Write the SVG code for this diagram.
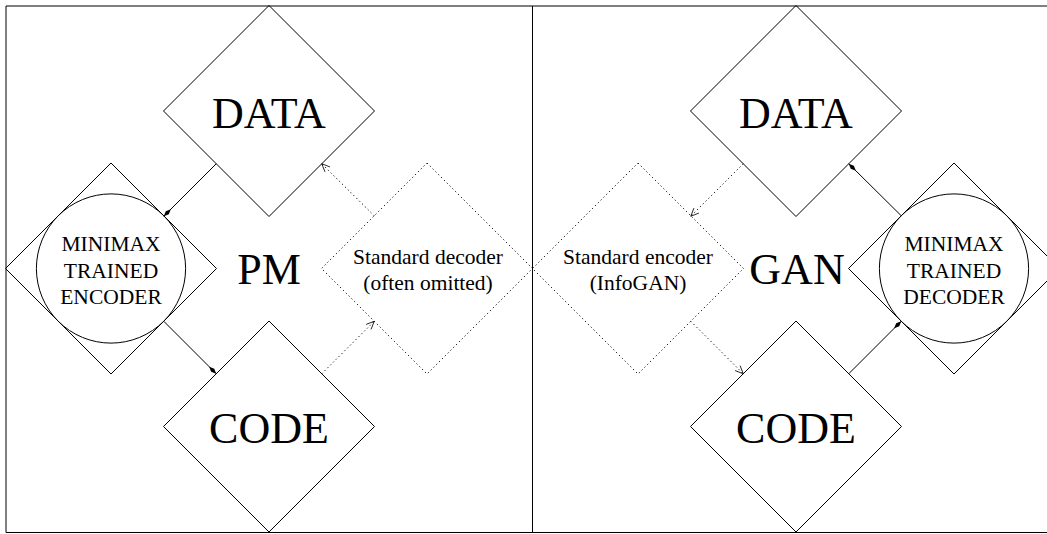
<svg xmlns="http://www.w3.org/2000/svg" width="1047" height="534" viewBox="0 0 1047 534">
<style>
.frame{fill:none;stroke:#000;stroke-width:1}
.dia{fill:none;stroke:#000;stroke-width:1}
.dot{fill:none;stroke:#000;stroke-width:1;stroke-dasharray:1.2 2.8}
.circ{fill:none;stroke:#000;stroke-width:1}
.big{font-family:"Liberation Serif","Times New Roman",serif;font-size:44px;text-anchor:middle;fill:#000}
.small{font-family:"Liberation Serif","Times New Roman",serif;font-size:21.5px;text-anchor:middle;fill:#000}
.solid{fill:none;stroke:#000;stroke-width:1}
.dashed{fill:none;stroke:#000;stroke-width:1;stroke-dasharray:1.2 2.8}
</style>
<defs>
<marker id="fill" markerUnits="userSpaceOnUse" markerWidth="14" markerHeight="8" refX="11" refY="4" orient="auto" overflow="visible">
<path d="M11,4 L6,1.8 L1,4 L6,6.2 Z" fill="#000" stroke="none"/>
</marker>
<marker id="open" markerUnits="userSpaceOnUse" markerWidth="12" markerHeight="10" refX="10" refY="5" orient="auto" overflow="visible">
<path d="M2,1.5 L10,5 L2,8.5" fill="none" stroke="#000" stroke-width="0.8"/>
</marker>
</defs>
<rect width="1047" height="534" fill="#fff"/>
<g id="frame">
<line class="frame" x1="6" y1="6" x2="1047" y2="6"/>
<line class="frame" x1="6" y1="6" x2="6" y2="532.5"/>
<line class="frame" x1="6" y1="532.5" x2="1047" y2="532.5"/>
<line class="frame" x1="532.5" y1="6" x2="532.5" y2="532.5"/>
</g>
<!-- Left panel -->
<g id="pm-data">
<polygon class="dia" points="269,5.5 374.5,111 269,216.5 163.5,111"/>
<text class="big" x="269" y="127.5">DATA</text>
</g>
<g id="pm-code">
<polygon class="dia" points="269,321 374.5,426.5 269,532 163.5,426.5"/>
<text class="big" x="269" y="443">CODE</text>
</g>
<g id="pm-encoder">
<polygon class="dia" points="111,163 216.5,268.5 111,374 5.5,268.5"/>
<circle class="circ" cx="111" cy="268.5" r="74.6"/>
<text class="small" x="111" y="251">MINIMAX</text>
<text class="small" x="111" y="277.5">TRAINED</text>
<text class="small" x="111" y="304">ENCODER</text>
</g>
<g id="pm-label">
<text class="big" x="269" y="284">PM</text>
</g>
<g id="pm-decoder">
<polygon class="dot" points="427,163 532.5,268.5 427,374 321.5,268.5"/>
<text class="small" x="428" y="264">Standard decoder</text>
<text class="small" x="428" y="290">(often omitted)</text>
</g>
<!-- Right panel -->
<g id="gan-data">
<polygon class="dia" points="796,5.5 901.5,111 796,216.5 690.5,111"/>
<text class="big" x="796" y="127.5">DATA</text>
</g>
<g id="gan-code">
<polygon class="dia" points="796,321 901.5,426.5 796,532 690.5,426.5"/>
<text class="big" x="796" y="443">CODE</text>
</g>
<g id="gan-decoder">
<polygon class="dia" points="954,163 1059.5,268.5 954,374 848.5,268.5"/>
<circle class="circ" cx="954" cy="268.5" r="74.6"/>
<text class="small" x="954" y="251">MINIMAX</text>
<text class="small" x="954" y="277.5">TRAINED</text>
<text class="small" x="954" y="304">DECODER</text>
</g>
<g id="gan-label">
<text class="big" x="797" y="284">GAN</text>
</g>
<g id="gan-encoder">
<polygon class="dot" points="638,163 743.5,268.5 638,374 532.5,268.5"/>
<text class="small" x="638" y="264">Standard encoder</text>
<text class="small" x="638" y="290">(InfoGAN)</text>
</g>
<g id="connectors">
<line class="solid" x1="216.25" y1="163.75" x2="163.75" y2="216.25" marker-end="url(#fill)"/>
<line class="solid" x1="163.75" y1="321.25" x2="216.25" y2="373.75" marker-end="url(#fill)"/>
<line class="dashed" x1="321.75" y1="373.75" x2="374.25" y2="321.25" marker-end="url(#open)"/>
<line class="dashed" x1="374.25" y1="215.75" x2="321.75" y2="163.75" marker-end="url(#open)"/>
<line class="solid" x1="901.25" y1="215.75" x2="848.75" y2="163.75" marker-end="url(#fill)"/>
<line class="solid" x1="848.75" y1="373.75" x2="901.25" y2="321.25" marker-end="url(#fill)"/>
<line class="dashed" x1="743.25" y1="163.75" x2="690.75" y2="216.25" marker-end="url(#open)"/>
<line class="dashed" x1="690.75" y1="321.25" x2="743.25" y2="373.75" marker-end="url(#open)"/>
</g>
</svg>
